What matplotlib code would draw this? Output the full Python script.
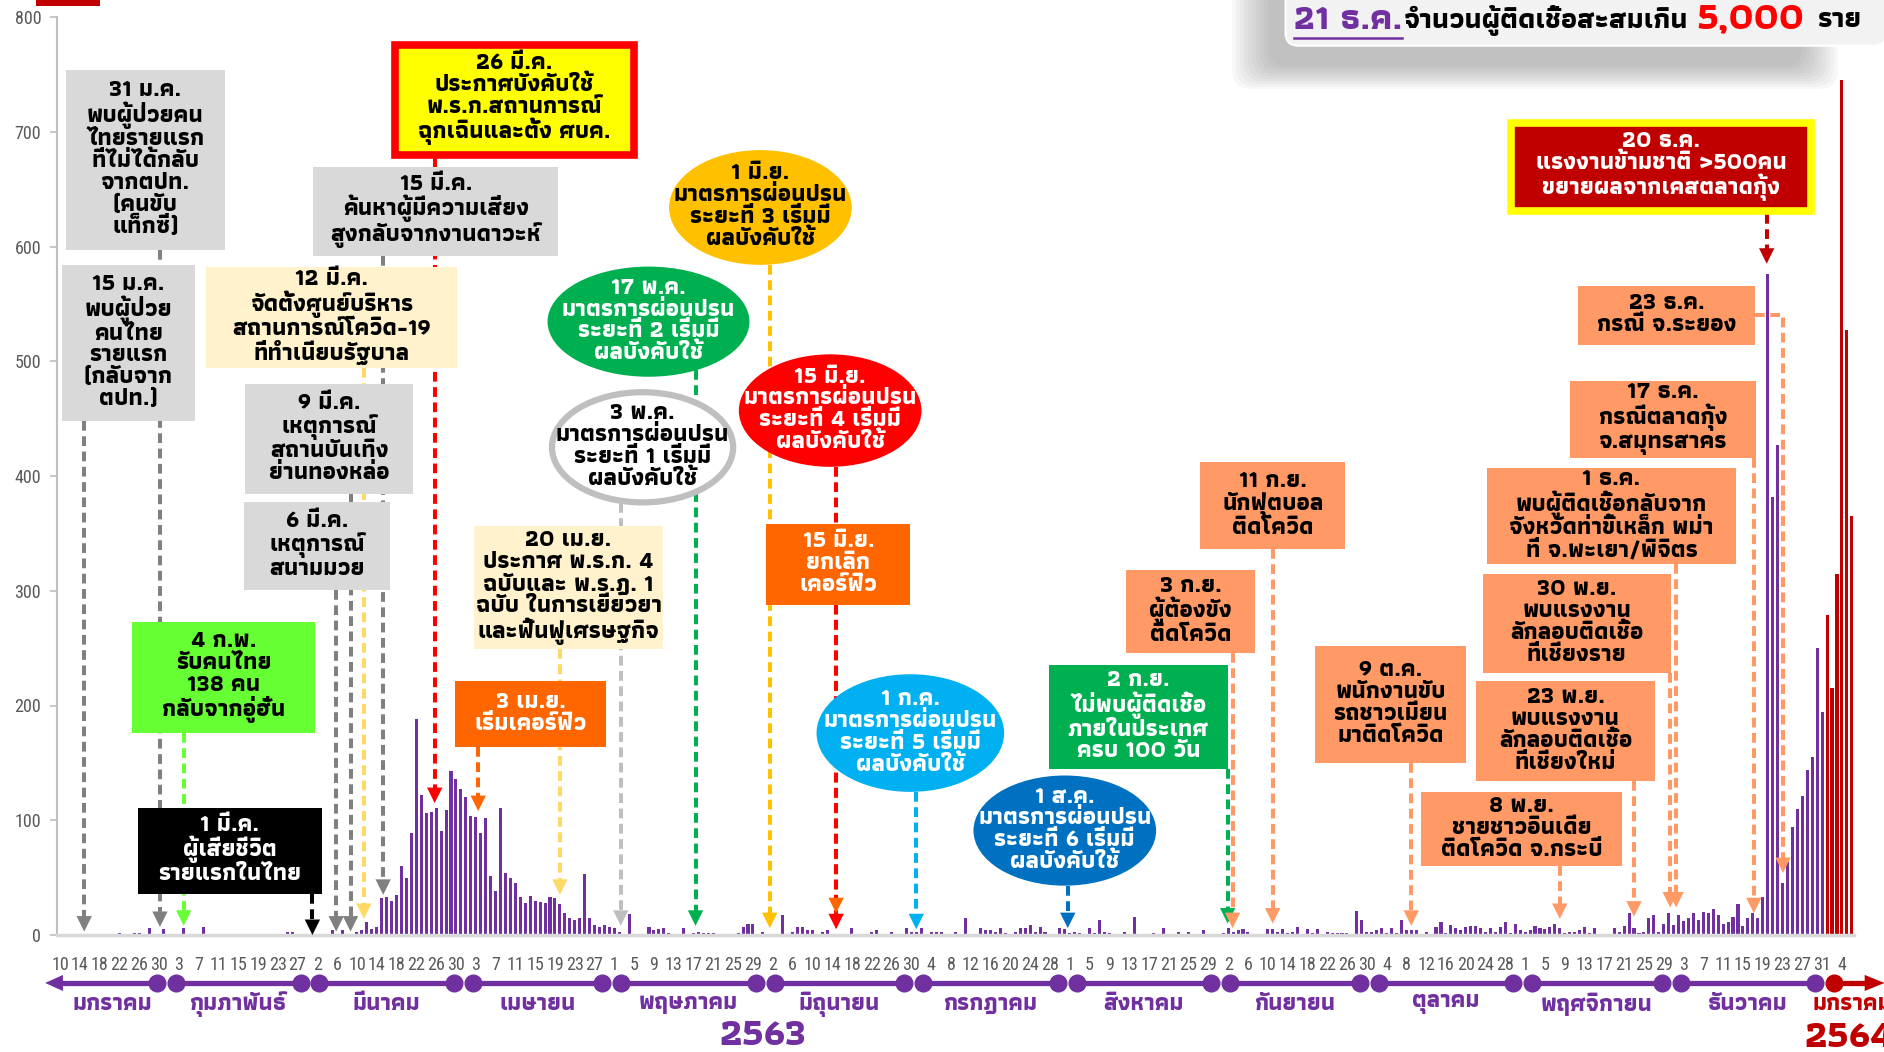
import os
import numpy as np
import pandas as pd
import matplotlib
matplotlib.use('Agg')
import matplotlib.pyplot as plt
from matplotlib import font_manager as fm
from matplotlib.ft2font import FT2Font
from matplotlib.patches import Rectangle, Ellipse, FancyBboxPatch, Polygon

# ---------------------------------------------------------------- data
start_date = '2020-01-10'
cases_jan2020 = [0, 0, 0, 1, 0, 0, 0, 1, 0, 0, 0, 0, 2, 0, 0, 2, 2, 0, 6, 0, 0, 5]
cases_feb2020 = [0, 0, 0, 6, 0, 0, 0, 7, 0, 0, 1, 0, 0, 1, 0, 0, 1, 0, 0, 0, 0, 0, 0, 0, 3, 3, 0, 1, 1]
cases_mar2020 = [1, 1, 0, 0, 4, 0, 4, 0, 0, 3, 4, 11, 5, 7, 32, 33, 30, 35, 60, 50, 89, 188, 122, 106,
                 107, 111, 91, 109, 143, 136, 127]
cases_apr2020 = [120, 104, 103, 89, 102, 51, 38, 111, 54, 50, 45, 33, 28, 34, 30, 29, 28, 33, 32, 27,
                 19, 15, 13, 15, 53, 15, 9, 7, 9, 7]
cases_may2020 = [6, 3, 1, 18, 1, 1, 1, 7, 4, 5, 6, 2, 0, 1, 6, 0, 2, 3, 2, 2, 2, 0, 1, 0, 1, 2, 7, 10, 10, 0, 3]
cases_jun2020 = [1, 1, 0, 17, 1, 3, 7, 7, 4, 4, 0, 3, 4, 1, 0, 0, 0, 6, 0, 1, 1, 3, 4, 0, 0, 3, 0, 0, 6, 3]
cases_jul2020 = [3, 6, 0, 3, 3, 3, 0, 0, 3, 0, 15, 1, 0, 6, 4, 4, 3, 6, 2, 0, 3, 6, 6, 9, 3, 7, 3, 1, 0, 6, 5]
cases_aug2020 = [2, 3, 2, 0, 6, 2, 13, 3, 2, 0, 0, 3, 1, 16, 0, 1, 0, 2, 0, 6, 0, 0, 3, 1, 3, 0, 0, 4, 0, 0, 0]
cases_sep2020 = [2, 6, 3, 4, 5, 3, 0, 0, 0, 5, 5, 3, 5, 2, 3, 7, 0, 5, 2, 5, 0, 3, 2, 2, 2, 2, 0, 21, 13, 3]
cases_oct2020 = [3, 4, 6, 2, 6, 2, 13, 4, 4, 4, 1, 3, 1, 7, 11, 2, 9, 6, 4, 7, 8, 8, 6, 3, 6, 3, 7, 11, 2, 10, 4]
cases_nov2020 = [3, 4, 8, 6, 5, 7, 10, 6, 2, 3, 3, 4, 7, 2, 6, 1, 1, 1, 6, 3, 8, 19, 6, 2, 3, 15, 17, 3, 10, 19]
cases_dec2020 = [9, 17, 12, 15, 19, 13, 20, 19, 23, 17, 10, 11, 16, 27, 8, 15, 19, 15, 33, 576, 382, 427,
                 45, 64, 94, 110, 121, 144, 155, 250, 194]
cases_jan2021 = [279, 215, 315, 745, 527, 365]

month_names = ['มกราคม', 'กุมภาพันธ์', 'มีนาคม', 'เมษายน', 'พฤษภาคม', 'มิถุนายน', 'กรกฎาคม',
               'สิงหาคม', 'กันยายน', 'ตุลาคม', 'พฤศจิกายน', 'ธันวาคม', 'มกราคม']
year_labels = ['2563', '2564']
y_ticks = [0, 100, 200, 300, 400, 500, 600, 700, 800]

values = np.array(cases_jan2020 + cases_feb2020 + cases_mar2020 + cases_apr2020 + cases_may2020 +
                  cases_jun2020 + cases_jul2020 + cases_aug2020 + cases_sep2020 + cases_oct2020 +
                  cases_nov2020 + cases_dec2020 + cases_jan2021)
dates = pd.date_range(start_date, periods=len(values), freq='D')

# ---------------------------------------------------------------- fonts
def _w(w):
    try:
        return int(w)
    except Exception:
        return fm.weight_dict.get(str(w).lower(), 400)

def _has(path, cp):
    try:
        return cp in FT2Font(path).get_charmap()
    except Exception:
        return False

KNOWN = ['Athiti', 'Anuphan', 'Kanit', 'Prompt', 'Mitr', 'Bai Jamjuree', 'K2D']
PREF = ['Athiti', 'Anuphan', 'IBM Plex Sans Thai', 'Bai Jamjuree', 'Prompt', 'Kanit', 'Mitr', 'K2D',
        'Noto Sans Thai']

thai_fams = {}
for f in fm.fontManager.ttflist:
    if 'thai' in f.name.lower() or f.name in KNOWN:
        if _has(f.fname, 0x0E01):
            thai_fams.setdefault(f.name, []).append(f)

def static_bold(name):
    for e in thai_fams.get(name, []):
        if _w(e.weight) >= 600 and '[' not in os.path.basename(e.fname):
            return True
    return False

THAI_NAME = None
for p in PREF:
    if p in thai_fams and static_bold(p):
        THAI_NAME = p
        break
if THAI_NAME is None:
    THAI_NAME = 'Noto Sans Thai' if 'Noto Sans Thai' in thai_fams else (next(iter(thai_fams)) if thai_fams else None)
THAI_FAM = ([THAI_NAME] if THAI_NAME else []) + ['Noto Sans', 'DejaVu Sans']

def pick_narrow():
    prefs = ['Liberation Sans Narrow', 'Roboto Condensed', 'Open Sans Condensed']
    ents = fm.fontManager.ttflist
    for p in prefs:
        for f in ents:
            if f.name == p and f.style == 'normal':
                return fm.FontProperties(fname=f.fname)
    return fm.FontProperties(family=['Liberation Sans', 'DejaVu Sans'])

NARROW = pick_narrow()
plt.rcParams['lines.scale_dashes'] = False

# ---------------------------------------------------------------- colours
PURPLE = '#7030A0'
DARKRED = '#C00000'
GREY = '#D9D9D9'
DGREY = '#808080'
SALMON = '#FF9966'
LYELLOW = '#FFF2CC'

# ---------------------------------------------------------------- figure
fig = plt.figure(figsize=(18.84, 10.52), dpi=100)
ax = fig.add_axes([56.5 / 1884, 117 / 1052, 1797.8 / 1884, 918 / 1052])
ax.set_xlim(-0.7, 362.5)
ax.set_ylim(0, 800)
fig.canvas.draw()
rend = fig.canvas.get_renderer()
inv = ax.transData.inverted()


def measure(s, size, ls=1.0):
    t = fig.text(0, 0, s, fontsize=size, fontfamily=THAI_FAM, fontweight='bold', linespacing=ls)
    bb = t.get_window_extent(rend)
    t.remove()
    return bb


def fit_size(s, target_px):
    return 20.0 * target_px / measure(s, 20.0).width


FS_BOX = fit_size('ค้นหาผู้มีความเสี่ยง', 186)
_h1 = measure('กป', FS_BOX).height
_h2 = measure('กป\nกป', FS_BOX).height
LS_BOX = 21.9 / max(1.0, (_h2 - _h1))
FS_MONTH = fit_size('กุมภาพันธ์', 97)
FS_YEAR = fit_size('2563', 87)
FS_B1 = fit_size('21 ธ.ค.', 108)
FS_B2 = fit_size('จำนวนผู้ติดเชื้อสะสมเกิน', 285)
FS_B3 = fit_size('5,000', 108)

x = np.arange(len(values))
bar_colors = np.where(dates.year == 2021, DARKRED, PURPLE)
ax.bar(x, values, width=0.62, color=bar_colors, linewidth=0, zorder=2)

for s in ['top', 'right']:
    ax.spines[s].set_visible(False)
ax.spines['left'].set_color('#BFBFBF')
ax.spines['left'].set_linewidth(1.5)
ax.spines['bottom'].set_color('#D9D9D9')
ax.spines['bottom'].set_linewidth(2.5)

ax.set_yticks(y_ticks)
ax.set_yticklabels([str(v) for v in y_ticks], fontproperties=NARROW, fontsize=13, color='#595959')
ax.tick_params(axis='y', colors='#BFBFBF', length=5, width=1.2, pad=6)
for lab in ax.get_yticklabels():
    lab.set_color('#595959')

tick_pos = x[::4]
ax.set_xticks(tick_pos)
ax.set_xticklabels([str(d.day) for d in dates[::4]], fontproperties=NARROW, fontsize=13, color='#595959')
ax.tick_params(axis='x', length=0, pad=15)


def ttext(xx, yy, s, size, color='black', ha='center', va='center', ls=None, z=7, **kw):
    return ax.text(xx, yy, s, fontsize=size, color=color, ha=ha, va=va,
                   linespacing=LS_BOX if ls is None else ls, zorder=z,
                   multialignment='center', clip_on=False, fontfamily=THAI_FAM, fontweight='bold', **kw)


HEAD_W = 3.1
HEAD_H = 13.5


def arrow_down(xx, y0, y1, color, z=3):
    ax.plot([xx, xx], [y0, y1 + HEAD_H * 0.8], color=color, lw=2.9, dashes=(7, 4),
            dash_capstyle='butt', zorder=z, clip_on=False)
    ax.add_patch(Polygon([[xx - HEAD_W / 2, y1 + HEAD_H], [xx + HEAD_W / 2, y1 + HEAD_H], [xx, y1]],
                         closed=True, fc=color, ec='none', zorder=z + 0.5, clip_on=False))


# ---------------------------------------------------------------- month timeline
TL_V = -41.8
periods = dates.to_period('M')
keys = list(dict.fromkeys(periods))
GAP = 1.9
MV = TL_V - 18.5
for i, p in enumerate(keys):
    idx = np.where(periods == p)[0]
    b0, b1 = idx[0] - 0.5, idx[-1] + 0.5
    col = DARKRED if p.year == 2021 else PURPLE
    if i == 0:
        xl, xr = -3.0, b1 - GAP
        ax.plot([xl + 3.2, xr], [TL_V, TL_V], color=col, lw=3.8, zorder=3, clip_on=False,
                solid_capstyle='butt')
        ax.add_patch(Polygon([[xl, TL_V], [xl + 3.6, TL_V + 7], [xl + 3.6, TL_V - 7]], closed=True,
                             fc=col, ec='none', clip_on=False, zorder=3))
        ax.plot([xr], [TL_V], 'o', ms=12, color=col, clip_on=False, zorder=4)
        ttext((b0 + b1) / 2, MV, month_names[i], FS_MONTH, color=col, ls=1.0)
    elif i == len(keys) - 1:
        xl = b0 + GAP
        xr = 368.6
        ax.plot([xl, xr - 3.5], [TL_V, TL_V], color=col, lw=3.8, zorder=3, clip_on=False)
        ax.add_patch(Polygon([[xr, TL_V], [xr - 4.0, TL_V + 7], [xr - 4.0, TL_V - 7]], closed=True,
                             fc=col, ec='none', clip_on=False, zorder=3))
        ax.plot([xl], [TL_V], 'o', ms=12, color=col, clip_on=False, zorder=4)
        ttext(b0 - 2.5, MV, month_names[i], FS_MONTH, color=col, ha='left', ls=1.0)
    else:
        xl, xr = b0 + GAP, b1 - GAP
        ax.plot([xl, xr], [TL_V, TL_V], color=col, lw=3.8, zorder=3, clip_on=False)
        ax.plot([xl, xr], [TL_V, TL_V], 'o', ms=12, color=col, clip_on=False, zorder=4)
        ttext((b0 + b1) / 2, MV, month_names[i], FS_MONTH, color=col, ls=1.0)

ttext(142, -88, year_labels[0], FS_YEAR, color=PURPLE, ls=1.0)
ttext(352.5, -89, year_labels[1], FS_YEAR, color=DARKRED, ha='left', ls=1.0)

# ---------------------------------------------------------------- annotation boxes
boxes = [
    ("31 ม.ค.\nพบผู้ป่วยคน\nไทยรายแรก\nที่ไม่ได้กลับ\nจากตปท.\n(คนขับ\nแท็กซี่)",
     (1.2, 33.3, 597, 754), GREY, None, 'black', (20.2, 7, DGREY)),
    ("15 ม.ค.\nพบผู้ป่วย\nคนไทย\nรายแรก\n(กลับจาก\nตปท.)",
     (0.5, 27.2, 448, 584), GREY, None, 'black', (4.9, 3, DGREY)),
    ("4 ก.พ.\nรับคนไทย\n138 คน\nกลับจากอู่ฮั่น",
     (14.6, 51.5, 176, 273), '#66FF33', None, 'black', (25, 8, '#66FF33')),
    ("1 มี.ค.\nผู้เสียชีวิต\nรายแรกในไทย",
     (15.8, 52.9, 36, 111), 'black', None, 'white', (51, 0, 'black')),
    ("6 มี.ค.\nเหตุการณ์\nสนามมวย",
     (37.1, 66.7, 301, 377), GREY, None, 'black', (55.8, 3, DGREY)),
    ("9 มี.ค.\nเหตุการณ์\nสถานบันเทิง\nย่านทองหล่อ",
     (37.4, 71.4, 384, 480), GREY, None, 'black', (58.7, 3, DGREY)),
    ("12 มี.ค.\nจัดตั้งศูนย์บริหาร\nสถานการณ์โควิด-19\nที่ทำเนียบรัฐบาล",
     (29.6, 80.3, 494, 582), LYELLOW, None, 'black', (61.4, 14, '#FFD966')),
    ("15 มี.ค.\nค้นหาผู้มีความเสี่ยง\nสูงกลับจากงานดาวะห์",
     (51.2, 100.7, 592, 669), GREY, None, 'black', (65.3, 35, DGREY)),
    ("26 มี.ค.\nประกาศบังคับใช้\nพ.ร.ก.สถานการณ์\nฉุกเฉินและตั้ง ศบค.",
     (67.0, 116.7, 677, 779), '#FFFF00', '#FF0000', 'black', (75.7, 115, '#FF0000')),
    ("3 เม.ย.\nเริ่มเคอร์ฟิว",
     (79.9, 110.4, 164, 221), '#FF6600', None, 'white', (84.5, 108, '#FF6600')),
    ("20 เม.ย.\nประกาศ พ.ร.ก. 4\nฉบับและ พ.ร.ฎ. 1\nฉบับ ในการเยียวยา\nและฟื้นฟูเศรษฐกิจ",
     (83.7, 121.8, 249, 356), LYELLOW, None, 'black', (101, 35, '#FFD966')),
    ("15 มิ.ย.\nยกเลิก\nเคอร์ฟิว",
     (142.7, 171.8, 288, 358), '#FF6600', None, 'white', (156.8, 19, '#FF6600')),
    ("2 ก.ย.\nไม่พบผู้ติดเชื้อ\nภายในประเทศ\nครบ 100 วัน",
     (199.8, 235.9, 145, 235), '#00B050', None, 'white', (235.9, 10, '#00B050')),
    ("3 ก.ย.\nผู้ต้องขัง\nติดโควิด",
     (215.3, 241.5, 246, 318), SALMON, None, 'black', (236.9, 6, SALMON)),
    ("11 ก.ย.\nนักฟุตบอล\nติดโควิด",
     (230.3, 259.7, 336, 412), SALMON, None, 'black', (245, 10, SALMON)),
    ("9 ต.ค.\nพนักงานขับ\nรถชาวเมียน\nมาติดโควิด",
     (253.6, 284.0, 150, 252), SALMON, None, 'black', (273, 8, SALMON)),
    ("8 พ.ย.\nชายชาวอินเดีย\nติดโควิด จ.กระบี่",
     (275.0, 315.5, 60, 124.5), SALMON, None, 'black', (303, 14, SALMON)),
    ("23 พ.ย.\nพบแรงงาน\nลักลอบติดเชื้อ\nที่เชียงใหม่",
     (286.0, 322.3, 134, 221), SALMON, None, 'black', (318, 16, SALMON)),
    ("30 พ.ย.\nพบแรงงาน\nลักลอบติดเชื้อ\nที่เชียงราย",
     (287.4, 325.5, 228, 315), SALMON, None, 'black', (325.3, 24, SALMON)),
    ("1 ธ.ค.\nพบผู้ติดเชื้อกลับจาก\nจังหวัดท่าขี้เหล็ก พม่า\nที่ จ.พะเยา/พิจิตร",
     (288.3, 338.6, 323, 407), SALMON, None, 'black', (326.5, 24, SALMON)),
    ("17 ธ.ค.\nกรณีตลาดกุ้ง\nจ.สมุทรสาคร",
     (305.0, 342.7, 416, 483), SALMON, None, 'black', (342.2, 19, SALMON)),
    ("23 ธ.ค.\nกรณี จ.ระยอง",
     (306.6, 342.5, 514, 566), SALMON, None, 'black', None),
    ("20 ธ.ค.\nแรงงานข้ามชาติ >500คน\nขยายผลจากเคสตลาดกุ้ง",
     (292.5, 354.4, 628, 711), DARKRED, '#FFFF00', 'white', (344.8, 585, DARKRED)),
]

DX = 0.7
DV = 3.0
for text, (x0, x1, v0, v1), fc, ec, tc, arr in boxes:
    if ec is not None:
        ax.add_patch(Rectangle((x0 + DX, v0 + DV), x1 - x0 - 2 * DX, v1 - v0 - 2 * DV, fc=fc, ec=ec,
                               lw=5.5, zorder=5, clip_on=False))
    else:
        ax.add_patch(Rectangle((x0, v0), x1 - x0, v1 - v0, fc=fc, ec='none', zorder=5, clip_on=False))
    ttext((x0 + x1) / 2, (v0 + v1) / 2 + 1, text, FS_BOX, color=tc)
    if arr is not None:
        arrow_down(arr[0], v0, arr[1], arr[2])

ax.plot([342.5, 348.1, 348.1], [540, 540, 54 + HEAD_H * 0.8], color=SALMON, lw=2.9, dashes=(7, 4),
        zorder=3, clip_on=False)
ax.add_patch(Polygon([[348.1 - HEAD_W / 2, 54 + HEAD_H], [348.1 + HEAD_W / 2, 54 + HEAD_H], [348.1, 54]],
                     closed=True, fc=SALMON, ec='none', zorder=3.5, clip_on=False))

ellipses = [
    ("3 พ.ค.\nมาตรการผ่อนปรน\nระยะที่ 1 เริ่มมี\nผลบังคับใช้", (117.7, 425, 37.6, 100),
     'white', '#BFBFBF', 'black', (113.3, 8, '#BFBFBF')),
    ("17 พ.ค.\nมาตรการผ่อนปรน\nระยะที่ 2 เริ่มมี\nผลบังคับใช้", (118.9, 534.5, 40.8, 96),
     '#00B050', None, 'white', (128.4, 8, '#00B050')),
    ("1 มิ.ย.\nมาตรการผ่อนปรน\nระยะที่ 3 เริ่มมี\nผลบังคับใช้", (141.5, 634, 36.9, 100),
     '#FFC000', None, 'black', (143.4, 6, '#FFC000')),
    ("15 มิ.ย.\nมาตรการผ่อนปรน\nระยะที่ 4 เริ่มมี\nผลบังคับใช้", (155.6, 457, 36.9, 98),
     '#FF0000', None, 'white', (156.8, 5, '#FF0000')),
    ("1 ก.ค.\nมาตรการผ่อนปรน\nระยะที่ 5 เริ่มมี\nผลบังคับใช้", (171.8, 176, 37.9, 102.5),
     '#00B0F0', None, 'white', (173, 5, '#00B0F0')),
    ("1 ส.ค.\nมาตรการผ่อนปรน\nระยะที่ 6 เริ่มมี\nผลบังคับใช้", (203.0, 91, 36.9, 96),
     '#0070C0', None, 'white', (203.6, 6, '#0070C0')),
]
for text, (cx, cy, w, h), fc, ec, tc, arr in ellipses:
    if ec is not None:
        ax.add_patch(Ellipse((cx, cy), w - 1.0, h - 4.0, fc=fc, ec=ec, lw=4.5, zorder=5, clip_on=False))
    else:
        ax.add_patch(Ellipse((cx, cy), w, h, fc=fc, ec='none', zorder=5, clip_on=False))
    ttext(cx, cy + 1, text, FS_BOX, color=tc)
    dx = (arr[0] - cx) / (w / 2)
    vstart = cy - (h / 2) * np.sqrt(max(0.0, 1 - dx * dx))
    arrow_down(arr[0], vstart, arr[1], arr[2])

# ---------------------------------------------------------------- top-right banner
bx0, bx1, bv0, bv1 = 247.6, 369.0, 775, 835
for k in range(10):
    gx = k * 0.8
    gv = k * 2.2
    ax.add_patch(FancyBboxPatch((244 - gx, 757 - gv), 108 + 2 * gx, 70 + 2 * gv,
                                boxstyle='round,pad=0,rounding_size=4', mutation_aspect=4.31,
                                fc='#6F6F6F', ec='none', alpha=0.05, zorder=8, clip_on=False))
ax.add_patch(FancyBboxPatch((bx0, bv0), bx1 - bx0, bv1 - bv0, boxstyle='round,pad=0,rounding_size=2.6',
                            mutation_aspect=4.31, fc='#F2F2F2', ec='#FFFFFF', lw=1.5, zorder=9,
                            clip_on=False))


def chain(prev, gap_px):
    bb = prev.get_window_extent(rend)
    return inv.transform((bb.x1 + gap_px, 0))[0]


t1 = ttext(249.3, 797, '21 ธ.ค.', FS_B1, color=PURPLE, ha='left', z=10, ls=1.0)
bb1 = t1.get_window_extent(rend)
ux0 = inv.transform((bb1.x0, 0))[0]
ux1 = inv.transform((bb1.x1, 0))[0]
ax.plot([ux0, ux1], [782, 782], color=PURPLE, lw=1.8, zorder=10, clip_on=False)
t2 = ttext(chain(t1, 1), 797, 'จำนวนผู้ติดเชื้อสะสมเกิน', FS_B2, color='black', ha='left', z=10, ls=1.0)
t3 = ttext(chain(t2, 9), 799, '5,000', FS_B3, color='#FF0000', ha='left', z=10, ls=1.0)
t4 = ttext(chain(t3, 12), 797, 'ราย', FS_B2, color='black', ha='left', z=10, ls=1.0)

fig.add_artist(Rectangle((36 / 1884, 1 - 6 / 1052), 64 / 1884, 6 / 1052, transform=fig.transFigure,
                         fc=DARKRED, ec='none'))

fig.savefig('out.png', dpi=100)
